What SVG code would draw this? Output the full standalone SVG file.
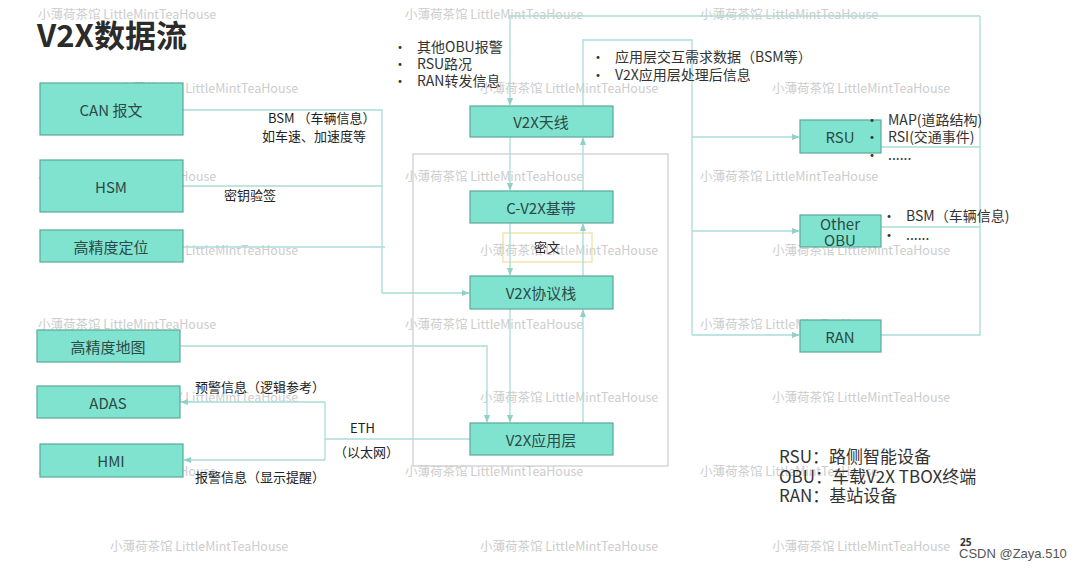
<svg xmlns="http://www.w3.org/2000/svg" width="1083" height="570" viewBox="0 0 1083 570">
<style>
.box{fill:#7fe3d0;stroke:#5aa898;stroke-width:1.2}
.bt{font-family:"Noto Sans CJK SC","Noto Sans",sans-serif;font-size:15px;fill:#2e4a45;text-anchor:middle;dominant-baseline:central}
.ln{fill:none;stroke:#a9ddd7;stroke-width:1.3}
.lbl{font-family:"Noto Sans CJK SC","Noto Sans",sans-serif;font-size:13px;fill:#222}
.blt{font-family:"Noto Sans CJK SC","Noto Sans",sans-serif;font-size:14px;fill:#333}
.wm{font-family:"Noto Sans CJK SC","Noto Sans",sans-serif;font-size:12.5px;fill:#cdcdcd}
.lg{font-family:"Noto Sans CJK SC","Noto Sans",sans-serif;font-size:17px;fill:#333}
</style>
<defs>
<marker id="ah" viewBox="0 0 10 10" refX="9" refY="5" markerWidth="6" markerHeight="6" orient="auto"><path d="M0,1 L10,5 L0,9 z" fill="#90d2c8"/></marker>
</defs>
<rect width="1083" height="570" fill="#ffffff"/>

<g id="watermarks">
<text class="wm" x="38" y="19">小薄荷茶馆 LittleMintTeaHouse</text>
<text class="wm" x="405" y="19">小薄荷茶馆 LittleMintTeaHouse</text>
<text class="wm" x="700" y="19">小薄荷茶馆 LittleMintTeaHouse</text>
<text class="wm" x="120" y="93">小薄荷茶馆 LittleMintTeaHouse</text>
<text class="wm" x="480" y="93">小薄荷茶馆 LittleMintTeaHouse</text>
<text class="wm" x="772" y="93">小薄荷茶馆 LittleMintTeaHouse</text>
<text class="wm" x="38" y="181">小薄荷茶馆 LittleMintTeaHouse</text>
<text class="wm" x="405" y="181">小薄荷茶馆 LittleMintTeaHouse</text>
<text class="wm" x="700" y="181">小薄荷茶馆 LittleMintTeaHouse</text>
<text class="wm" x="120" y="255">小薄荷茶馆 LittleMintTeaHouse</text>
<text class="wm" x="480" y="255">小薄荷茶馆 LittleMintTeaHouse</text>
<text class="wm" x="772" y="255">小薄荷茶馆 LittleMintTeaHouse</text>
<text class="wm" x="38" y="329">小薄荷茶馆 LittleMintTeaHouse</text>
<text class="wm" x="405" y="329">小薄荷茶馆 LittleMintTeaHouse</text>
<text class="wm" x="700" y="329">小薄荷茶馆 LittleMintTeaHouse</text>
<text class="wm" x="120" y="402">小薄荷茶馆 LittleMintTeaHouse</text>
<text class="wm" x="480" y="402">小薄荷茶馆 LittleMintTeaHouse</text>
<text class="wm" x="772" y="402">小薄荷茶馆 LittleMintTeaHouse</text>
<text class="wm" x="38" y="476">小薄荷茶馆 LittleMintTeaHouse</text>
<text class="wm" x="405" y="476">小薄荷茶馆 LittleMintTeaHouse</text>
<text class="wm" x="700" y="476">小薄荷茶馆 LittleMintTeaHouse</text>
<text class="wm" x="110" y="551">小薄荷茶馆 LittleMintTeaHouse</text>
<text class="wm" x="480" y="551">小薄荷茶馆 LittleMintTeaHouse</text>
<text class="wm" x="772" y="551">小薄荷茶馆 LittleMintTeaHouse</text>
</g>

<text x="37" y="47" font-family="'Noto Sans CJK SC','Noto Sans',sans-serif" font-size="31" font-weight="bold" fill="#2b2b2b">V2X数据流</text>

<rect id="frame-inner" x="413" y="154" width="255" height="312" fill="none" stroke="#cfcfcf" stroke-width="1.3"/>
<rect id="miwen-box" x="503" y="233" width="89" height="29" fill="none" stroke="#f0dca0" stroke-width="1.2"/>
<text class="lbl" x="547" y="246" text-anchor="middle" dominant-baseline="central" font-size="14">密文</text>

<g id="connectors">
<polyline class="ln" points="183,110 382,110 382,293 469,293" marker-end="url(#ah)"/>
<line class="ln" x1="183" y1="186" x2="382" y2="186"/>
<line class="ln" x1="183" y1="247" x2="385" y2="247"/>
<polyline class="ln" points="180,346 487,346 487,422" marker-end="url(#ah)"/>
<polyline class="ln" points="980,16 510,16 510,105" marker-end="url(#ah)"/>
<line class="ln" x1="510" y1="137" x2="510" y2="190" marker-end="url(#ah)"/>
<line class="ln" x1="583" y1="191" x2="583" y2="138" marker-end="url(#ah)"/>
<line class="ln" x1="510" y1="223" x2="510" y2="275" marker-end="url(#ah)"/>
<line class="ln" x1="583" y1="276" x2="583" y2="224" marker-end="url(#ah)"/>
<line class="ln" x1="510" y1="309" x2="510" y2="422" marker-end="url(#ah)"/>
<line class="ln" x1="583" y1="423" x2="583" y2="310" marker-end="url(#ah)"/>
<polyline class="ln" points="583,106 583,40 692,40 692,335"/>
<line class="ln" x1="692" y1="137" x2="799" y2="137" marker-end="url(#ah)"/>
<line class="ln" x1="692" y1="231" x2="799" y2="231" marker-end="url(#ah)"/>
<line class="ln" x1="692" y1="335" x2="799" y2="335" marker-end="url(#ah)"/>
<polyline class="ln" points="881,335 980,335 980,16"/>
<line class="ln" x1="881" y1="147" x2="980" y2="147"/>
<line class="ln" x1="881" y1="227" x2="980" y2="227"/>
<line class="ln" x1="470" y1="439" x2="325" y2="439"/>
<polyline class="ln" points="325,402 325,460"/>
<line class="ln" x1="325" y1="402" x2="181" y2="402" marker-end="url(#ah)"/>
<line class="ln" x1="325" y1="460" x2="184" y2="460" marker-end="url(#ah)"/>
</g>

<g id="n-can"><rect class="box" x="40" y="83" width="143" height="52"/><text class="bt" x="111" y="109">CAN 报文</text></g>
<g id="n-hsm"><rect class="box" x="40" y="160" width="143" height="52"/><text class="bt" x="111" y="186">HSM</text></g>
<g id="n-gnss"><rect class="box" x="40" y="230" width="143" height="32"/><text class="bt" x="111" y="246">高精度定位</text></g>
<g id="n-map"><rect class="box" x="37" y="330" width="143" height="32"/><text class="bt" x="108" y="346">高精度地图</text></g>
<g id="n-adas"><rect class="box" x="37" y="386" width="143" height="32"/><text class="bt" x="108" y="402">ADAS</text></g>
<g id="n-hmi"><rect class="box" x="40" y="444" width="143" height="33"/><text class="bt" x="111" y="460">HMI</text></g>

<g id="n-antenna"><rect class="box" x="470" y="106" width="143" height="31"/><text class="bt" x="541" y="121">V2X天线</text></g>
<g id="n-baseband"><rect class="box" x="470" y="191" width="143" height="32"/><text class="bt" x="541" y="207">C-V2X基带</text></g>
<g id="n-stack"><rect class="box" x="470" y="276" width="143" height="33"/><text class="bt" x="541" y="292">V2X协议栈</text></g>
<g id="n-app"><rect class="box" x="470" y="423" width="143" height="32"/><text class="bt" x="541" y="439">V2X应用层</text></g>

<g id="n-rsu"><rect class="box" x="800" y="120" width="81" height="33"/><text class="bt" x="840" y="136">RSU</text></g>
<g id="n-obu"><rect class="box" x="800" y="215" width="81" height="32"/><text class="bt" x="840" y="223" font-size="14">Other</text><text class="bt" x="840" y="239" font-size="14">OBU</text></g>
<g id="n-ran"><rect class="box" x="800" y="320" width="81" height="32"/><text class="bt" x="840" y="336">RAN</text></g>

<g id="labels">
<text class="lbl" x="268" y="123" font-size="12">BSM （车辆信息）</text>
<text class="lbl" x="262" y="141" font-size="12">如车速、加速度等</text>
<text class="lbl" x="224" y="200" font-size="12">密钥验签</text>
<text class="lbl" x="195" y="392" font-size="14">预警信息（逻辑参考）</text>
<text class="lbl" x="350" y="433" font-size="12">ETH</text>
<text class="lbl" x="334" y="457" font-size="12">（以太网）</text>
<text class="lbl" x="195" y="482" font-size="14">报警信息（显示提醒）</text>

<text class="blt" x="393" y="52">•</text><text class="blt" x="417" y="52">其他OBU报警</text>
<text class="blt" x="393" y="69">•</text><text class="blt" x="417" y="69">RSU路况</text>
<text class="blt" x="393" y="86">•</text><text class="blt" x="417" y="86">RAN转发信息</text>

<text class="blt" x="591" y="62">•</text><text class="blt" x="615" y="62">应用层交互需求数据（BSM等）</text>
<text class="blt" x="591" y="80">•</text><text class="blt" x="615" y="80">V2X应用层处理后信息</text>

<text class="blt" x="865" y="125">•</text><text class="blt" x="888" y="125">MAP(道路结构)</text>
<text class="blt" x="865" y="142">•</text><text class="blt" x="888" y="142">RSI(交通事件)</text>
<text class="blt" x="865" y="160">•</text><text class="blt" x="888" y="160" font-size="10">......</text>

<text class="blt" x="882" y="221">•</text><text class="blt" x="906" y="221">BSM（车辆信息)</text>
<text class="blt" x="882" y="240">•</text><text class="blt" x="906" y="240" font-size="10">......</text>

<text class="lg" x="779" y="463">RSU：路侧智能设备</text>
<text class="lg" x="779" y="483">OBU：车载V2X TBOX终端</text>
<text class="lg" x="779" y="502">RAN：基站设备</text>

<text x="960" y="546" font-family="'Noto Sans','Liberation Sans',sans-serif" font-size="10" font-weight="bold" fill="#333">25</text>
<text x="959" y="558" font-family="'Liberation Sans','DejaVu Sans',sans-serif" font-size="13" fill="#555">CSDN @Zaya.510</text>
</g>
</svg>
